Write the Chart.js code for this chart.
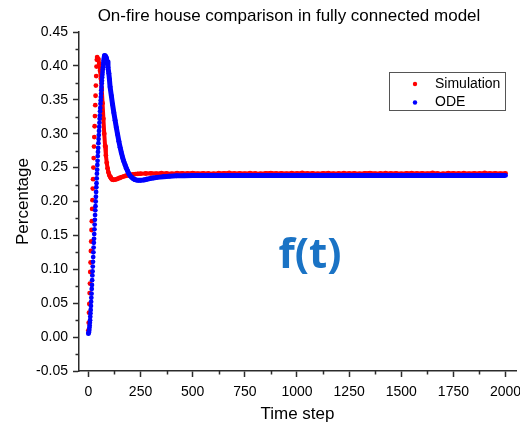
<!DOCTYPE html>
<html>
<head>
<meta charset="utf-8">
<title>On-fire house comparison</title>
<script src="https://cdn.jsdelivr.net/npm/chart.js@4.4.0/dist/chart.umd.min.js"></script>
<style>
  body { margin: 0; background: #fff; }
  #wrap { width: 520px; height: 425px; }
</style>
</head>
<body>
<div id="wrap"><canvas id="chart" width="520" height="425"></canvas></div>
<script>
"use strict";

// Simulation (red) - time steps and on-fire share
var simT = [0, 1.5, 3, 4.5, 6, 7.5, 9, 10.5, 12, 13.5, 15, 16.5, 18, 19.5, 21, 22.5, 24, 25.5, 27, 28.5,
    30, 31.5, 33, 34.5, 36, 37.5, 39, 40.5, 42,
    48, 52, 56, 60, 64, 68, 72, 76, 80, 84, 88, 92, 96, 100, 104, 108, 112, 116, 120,
    128, 136, 144, 152, 160, 170, 180, 190, 200, 212, 225, 237, 250,
    275, 300, 325, 350, 375, 400, 425, 450, 475, 500, 525, 550, 575, 600, 625, 650, 675, 700, 725, 750,
    775, 800, 825, 850, 875, 900, 925, 950, 975, 1000, 1025, 1050, 1075, 1100, 1125, 1150, 1175, 1200,
    1225, 1250, 1275, 1300, 1325, 1350, 1375, 1400, 1425, 1450, 1475, 1500, 1525, 1550, 1575, 1600,
    1625, 1650, 1675, 1700, 1725, 1750, 1775, 1800, 1825, 1850, 1875, 1900, 1925, 1950, 1975, 2000];
var simY = [0.010, 0.021, 0.036, 0.049, 0.065, 0.079, 0.096, 0.110, 0.127, 0.141, 0.158, 0.171, 0.189, 0.202,
    0.219, 0.233, 0.250, 0.264, 0.281, 0.295, 0.311, 0.326, 0.342, 0.356, 0.371, 0.385, 0.399, 0.409, 0.413,
    0.410, 0.403, 0.393, 0.381, 0.366, 0.345, 0.322, 0.300, 0.282, 0.268, 0.257, 0.249, 0.243, 0.239, 0.2365,
    0.2345, 0.233, 0.2322, 0.232,
    0.2323, 0.233, 0.234, 0.235, 0.236, 0.237, 0.238, 0.2387, 0.2393, 0.2399, 0.2404, 0.2408, 0.2411,
    0.2413, 0.2416, 0.2412, 0.2418, 0.2414, 0.2411, 0.2417, 0.2415, 0.2413, 0.2419,
    0.2412, 0.2416, 0.2414, 0.2410, 0.2417, 0.2415, 0.2421, 0.2413, 0.2416, 0.2412,
    0.2418, 0.2414, 0.2411, 0.2416, 0.2419, 0.2413, 0.2415, 0.2412, 0.2417, 0.2414,
    0.2420, 0.2413, 0.2416, 0.2411, 0.2415, 0.2418, 0.2412, 0.2414, 0.2417, 0.2413,
    0.2416, 0.2410, 0.2415, 0.2419, 0.2412, 0.2414, 0.2417, 0.2413, 0.2416, 0.2411,
    0.2415, 0.2418, 0.2413, 0.2416, 0.2412, 0.2420, 0.2414, 0.2411, 0.2417, 0.2415,
    0.2413, 0.2418, 0.2412, 0.2416, 0.2414, 0.2421, 0.2413, 0.2415, 0.2412, 0.2416];

// ODE (blue)
var odeT = [0, 1, 2, 3, 4, 5, 6, 7, 8, 9, 10, 11, 12, 13, 14, 15, 16, 17, 18, 19, 20, 21, 22, 23, 24, 25,
    26, 27, 28, 29, 30, 31, 32, 33, 34, 35, 36, 37, 38, 39, 40, 41, 42, 43, 44, 45, 46, 47, 48, 49, 50,
    51, 52, 53, 54, 55, 56, 57, 58, 59, 60, 61, 62, 63, 64, 65, 66, 67, 68, 69, 70, 71, 72, 73, 74, 75,
    76, 77, 78,
    82, 86, 90, 94, 98, 101, 104, 110, 116, 122, 128, 134, 140, 146, 152, 158, 164, 170, 176, 182, 188,
    194, 200, 208, 216, 224, 232, 240, 250, 265, 280, 295, 311, 330, 360, 390, 422, 460, 500,
    600, 700, 800, 900, 1000, 1100, 1200, 1300, 1400, 1500, 1600, 1700, 1800, 1900, 2000];
var odeY = [0.005, 0.006, 0.007, 0.009, 0.011, 0.014, 0.017, 0.021, 0.025, 0.030, 0.035, 0.040, 0.046, 0.052,
    0.058, 0.064, 0.071, 0.077, 0.084, 0.091, 0.097, 0.104, 0.111, 0.118, 0.125, 0.132, 0.139, 0.145, 0.152,
    0.159, 0.166, 0.173, 0.180, 0.187, 0.193, 0.200, 0.207, 0.214, 0.221, 0.227, 0.234, 0.241, 0.247, 0.254,
    0.260, 0.267, 0.273, 0.279, 0.286, 0.292, 0.298, 0.304, 0.310, 0.316, 0.322, 0.327, 0.333, 0.338, 0.344,
    0.349, 0.354, 0.359, 0.364, 0.369, 0.374, 0.378, 0.383, 0.387, 0.391, 0.395, 0.398, 0.402, 0.405, 0.408,
    0.410, 0.412, 0.414, 0.415, 0.4155,
    0.4145, 0.412, 0.406, 0.398, 0.389, 0.380, 0.369, 0.356, 0.343, 0.331, 0.320, 0.309, 0.299, 0.289,
    0.280, 0.272, 0.265, 0.259, 0.254, 0.249, 0.245, 0.241, 0.238, 0.2355, 0.2335, 0.2322, 0.2315, 0.2312,
    0.2312, 0.2318, 0.2328, 0.2338, 0.2347, 0.2356, 0.2366, 0.2373, 0.2378, 0.2381, 0.2383,
    0.2384, 0.2384, 0.2384, 0.2384, 0.2384, 0.2384, 0.2384, 0.2384, 0.2384, 0.2384, 0.2384, 0.2384,
    0.2384, 0.2384, 0.2384];

var seriesNames = ['Simulation', 'ODE'];
var xTicks = [0, 250, 500, 750, 1000, 1250, 1500, 1750, 2000];
var xMinor = [125, 375, 625, 875, 1125, 1375, 1625, 1875];
var yTicks = [-0.05, 0.00, 0.05, 0.10, 0.15, 0.20, 0.25, 0.30, 0.35, 0.40, 0.45];
var yMinor = [-0.025, 0.025, 0.075, 0.125, 0.175, 0.225, 0.275, 0.325, 0.375, 0.425];

var FONT = '"Liberation Sans", Arial, sans-serif';
var AXIS = '#2b2b2b';
var RED = '#ff0000';
var BLUE = '#0000ff';

function toPoints(ts, ys) {
    return ts.map(function(t, i) { return {x: t, y: ys[i]}; });
}

// the rising part is drawn as separate dots, the rest as a dense band
function peakTime(ts, ys) {
    var m = Math.max.apply(null, ys);
    return ts[ys.indexOf(m)];
}
var simPeak = peakTime(simT, simY);
var odePeak = peakTime(odeT, odeY);

var decorations = {
    id: 'decorations',
    afterDraw: function(chart) {
        var ctx = chart.ctx, xs = chart.scales.x, ys = chart.scales.y, area = chart.chartArea;
        ctx.save();
        // minor ticks
        ctx.strokeStyle = AXIS;
        ctx.lineWidth = 1.5;
        ctx.beginPath();
        xMinor.forEach(function(v) {
            var px = Math.round(xs.getPixelForValue(v)) + 0.5;
            ctx.moveTo(px, area.bottom);
            ctx.lineTo(px, area.bottom + 3.5);
        });
        yMinor.forEach(function(v) {
            var py = Math.round(ys.getPixelForValue(v)) + 0.5;
            ctx.moveTo(area.left, py);
            ctx.lineTo(area.left - 3.5, py);
        });
        ctx.stroke();

        // title
        ctx.fillStyle = '#000';
        ctx.font = '17px ' + FONT;
        ctx.textAlign = 'center';
        ctx.textBaseline = 'middle';
        ctx.fillText('On-fire house comparison in fully connected model', 289, 16);

        // legend box
        ctx.strokeStyle = '#555';
        ctx.lineWidth = 1;
        ctx.strokeRect(389.5, 72.5, 116, 38);
        ctx.font = '14px ' + FONT;
        ctx.textAlign = 'left';
        var rows = [[seriesNames[0], RED, 84], [seriesNames[1], BLUE, 102.5]];
        rows.forEach(function(r) {
            ctx.fillStyle = r[1];
            ctx.beginPath();
            ctx.arc(415, r[2], 2.2, 0, Math.PI * 2);
            ctx.fill();
            ctx.fillStyle = '#000';
            ctx.fillText(r[0], 435, r[2]);
        });

        // annotation
        ctx.fillStyle = '#1a73c5';
        ctx.font = 'bold 42px "Open Sans", sans-serif';
        ctx.textAlign = 'center';
        ctx.textBaseline = 'alphabetic';
        ctx.fillText('f(t)', 310, 268);
        ctx.restore();
    }
};

window.onload = function() {
    var ctx = document.getElementById('chart').getContext('2d');
    var chart = new Chart(ctx, {
        type: 'scatter',
        data: {
            datasets: [{
                label: seriesNames[1],
                data: toPoints(odeT, odeY),
                order: 0,
                showLine: true,
                borderColor: BLUE,
                borderWidth: 5,
                borderJoinStyle: 'round',
                pointRadius: 2.4,
                pointBorderWidth: 0,
                pointBackgroundColor: BLUE,
                segment: {
                    borderColor: function(c) { return c.p0.parsed.x < odePeak ? 'rgba(0,0,0,0)' : BLUE; }
                }
            }, {
                label: seriesNames[0],
                data: toPoints(simT, simY),
                order: 1,
                showLine: true,
                borderColor: RED,
                borderWidth: 4,
                borderJoinStyle: 'round',
                pointRadius: 2.4,
                pointBorderWidth: 0,
                pointBackgroundColor: RED,
                segment: {
                    borderColor: function(c) { return c.p0.parsed.x < simPeak ? 'rgba(0,0,0,0)' : RED; }
                }
            }]
        },
        options: {
            responsive: false,
            animation: false,
            events: [],
            layout: { padding: { top: 32, right: 3, left: 0, bottom: 0 } },
            plugins: {
                legend: { display: false },
                title: { display: false },
                tooltip: { enabled: false }
            },
            scales: {
                x: {
                    type: 'linear',
                    min: -45,
                    max: 2050,
                    afterBuildTicks: function(s) { s.ticks = xTicks.map(function(v) { return {value: v}; }); },
                    afterFit: function(s) { s.height = 54; s.paddingLeft = 0; s.paddingRight = 0; },
                    grid: { drawOnChartArea: false, tickLength: 6, tickColor: AXIS, tickWidth: 1.5 },
                    border: { display: true, color: AXIS, width: 1.5 },
                    ticks: {
                        padding: 7,
                        maxRotation: 0,
                        autoSkip: false,
                        color: '#000',
                        font: { family: FONT, size: 14 },
                        callback: function(v) { return String(v); }
                    },
                    title: {
                        display: true,
                        text: 'Time step',
                        color: '#000',
                        font: { family: FONT, size: 17 },
                        padding: { top: 0, bottom: 0 }
                    }
                },
                y: {
                    type: 'linear',
                    min: -0.05,
                    max: 0.45,
                    afterBuildTicks: function(s) { s.ticks = yTicks.map(function(v) { return {value: v}; }); },
                    afterFit: function(s) { s.width = 79; s.paddingTop = 0; s.paddingBottom = 0; },
                    grid: { drawOnChartArea: false, tickLength: 6, tickColor: AXIS, tickWidth: 1.5 },
                    border: { display: true, color: AXIS, width: 1.5 },
                    ticks: {
                        padding: 5,
                        autoSkip: false,
                        color: '#000',
                        font: { family: FONT, size: 14 },
                        callback: function(v) { return Number(v).toFixed(2); }
                    },
                    title: {
                        display: true,
                        text: 'Percentage',
                        color: '#000',
                        font: { family: FONT, size: 17 },
                        padding: { top: 13, bottom: 0 }
                    }
                }
            }
        },
        plugins: [decorations]
    });
    window.mychart = chart; // for debug
};
</script>
</body>
</html>
